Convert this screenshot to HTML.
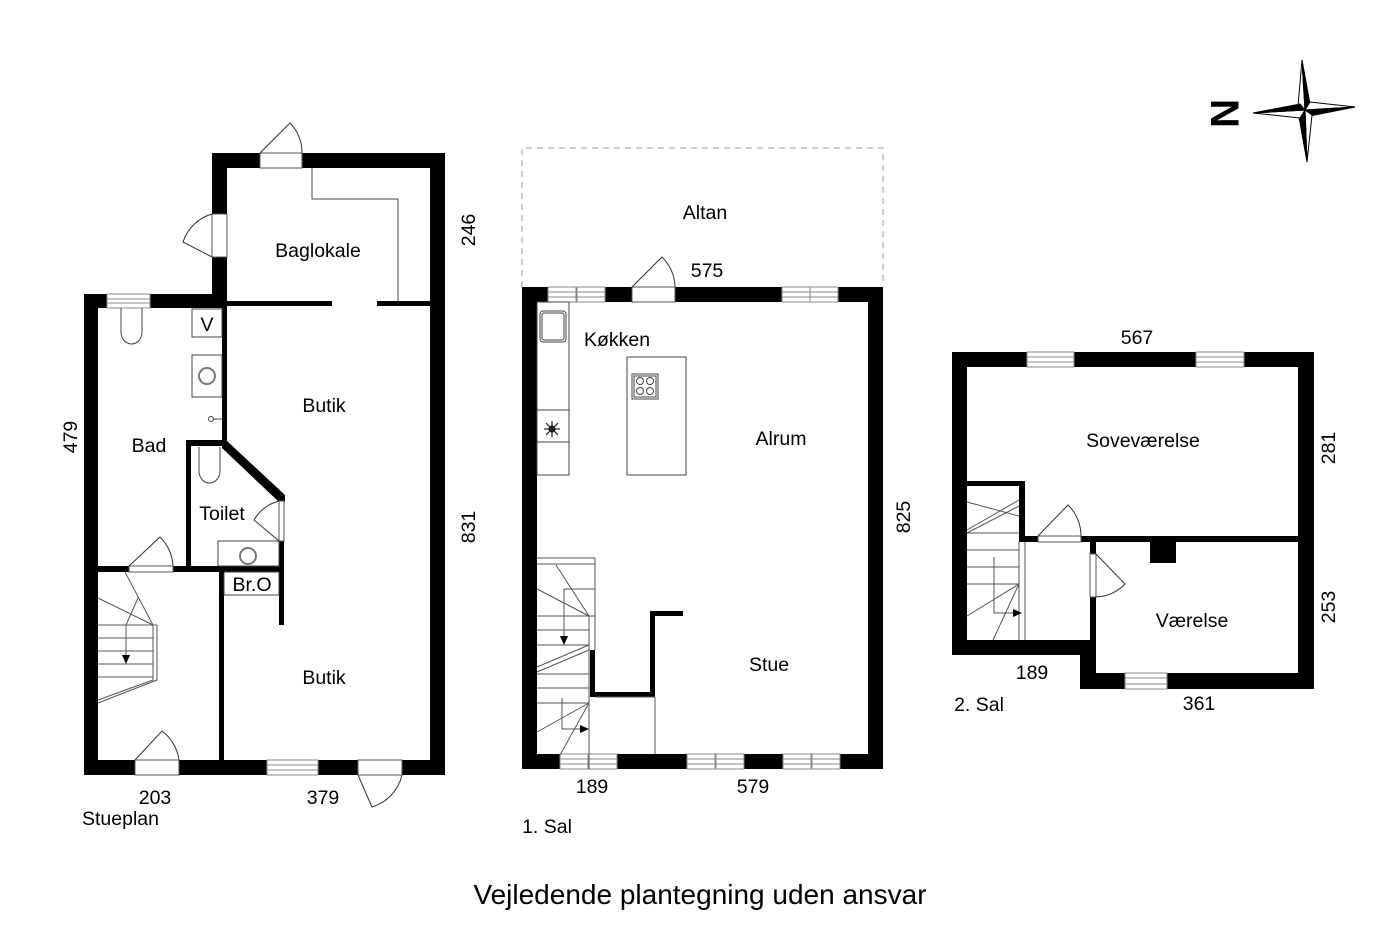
<!DOCTYPE html>
<html><head><meta charset="utf-8"><style>
html,body{margin:0;padding:0;background:#fff;}
svg{display:block}
text{font-family:"Liberation Sans",Arial,sans-serif;fill:#000}
</style></head><body>
<svg width="1400" height="933" viewBox="0 0 1400 933" xmlns="http://www.w3.org/2000/svg">
<g fill="#000">
<rect x="84" y="294" width="14" height="481"/>
<rect x="84" y="294" width="143" height="14"/>
<rect x="212" y="153" width="15" height="155"/>
<rect x="212" y="153" width="233" height="15"/>
<rect x="430" y="153" width="15" height="622"/>
<rect x="84" y="760" width="361" height="15"/>
<rect x="222" y="300" width="5" height="145"/>
<rect x="227" y="301" width="105" height="5"/>
<rect x="377" y="301" width="53" height="5"/>
<rect x="186" y="440" width="41" height="6"/>
<rect x="186" y="440" width="5" height="132"/>
<polygon points="222,441 227,441 285,495 285,502 279,502 222,448"/>
<rect x="279" y="541" width="5" height="84"/>
<rect x="98" y="566" width="186" height="6"/>
<rect x="219" y="566" width="5" height="194"/>
<rect x="522" y="287" width="15" height="482"/>
<rect x="522" y="287" width="361" height="15"/>
<rect x="868" y="287" width="15" height="482"/>
<rect x="522" y="754" width="361" height="15"/>
<rect x="650" y="611" width="33" height="5"/>
<rect x="650" y="611" width="5" height="86"/>
<rect x="590" y="692" width="65" height="5"/>
<rect x="590" y="650" width="5" height="47"/>
<rect x="952" y="352" width="362" height="15"/>
<rect x="952" y="352" width="15" height="303"/>
<rect x="1298" y="352" width="16" height="337"/>
<rect x="952" y="640" width="144" height="15"/>
<rect x="1080" y="640" width="16" height="49"/>
<rect x="1080" y="673" width="234" height="16"/>
<rect x="1019" y="536" width="279" height="6"/>
<rect x="967" y="481" width="58" height="5"/>
<rect x="1019" y="481" width="6" height="61"/>
<rect x="1090" y="542" width="6" height="98"/>
<rect x="1150" y="542" width="26" height="21"/>
</g>

<g fill="#fff" stroke="#888" stroke-width="1">
<rect x="107" y="294" width="43" height="14"/>
<rect x="267" y="760" width="51" height="15"/>
<rect x="548" y="287" width="28" height="15"/><rect x="577" y="287" width="28" height="15"/>
<rect x="782" y="287" width="28" height="15"/><rect x="810" y="287" width="28" height="15"/>
<rect x="560" y="754" width="28" height="15"/><rect x="589" y="754" width="28" height="15"/>
<rect x="687" y="754" width="28" height="15"/><rect x="716" y="754" width="28" height="15"/>
<rect x="783" y="754" width="28" height="15"/><rect x="812" y="754" width="28" height="15"/>
<rect x="1027" y="352" width="47" height="15"/>
<rect x="1196" y="352" width="48" height="15"/>
<rect x="1125" y="673" width="42" height="16"/>
</g>
<g stroke="#888" stroke-width="1">
<line x1="107" y1="299" x2="150" y2="299"/><line x1="107" y1="303" x2="150" y2="303"/>
<line x1="267" y1="765" x2="318" y2="765"/><line x1="267" y1="770" x2="318" y2="770"/>
<line x1="548" y1="292" x2="605" y2="292"/><line x1="548" y1="297" x2="605" y2="297"/>
<line x1="782" y1="292" x2="838" y2="292"/><line x1="782" y1="297" x2="838" y2="297"/>
<line x1="560" y1="759" x2="617" y2="759"/><line x1="560" y1="764" x2="617" y2="764"/>
<line x1="687" y1="759" x2="744" y2="759"/><line x1="687" y1="764" x2="744" y2="764"/>
<line x1="783" y1="759" x2="840" y2="759"/><line x1="783" y1="764" x2="840" y2="764"/>
<line x1="1027" y1="357" x2="1074" y2="357"/><line x1="1027" y1="362" x2="1074" y2="362"/>
<line x1="1196" y1="357" x2="1244" y2="357"/><line x1="1196" y1="362" x2="1244" y2="362"/>
<line x1="1125" y1="678" x2="1167" y2="678"/><line x1="1125" y1="684" x2="1167" y2="684"/>
</g>

<g fill="#fff" stroke="#555" stroke-width="1">
<rect x="260" y="153" width="42" height="15"/>
<rect x="212" y="214" width="15" height="43"/>
<rect x="129" y="566" width="44" height="6"/>
<rect x="279" y="501" width="5" height="40"/>
<rect x="135" y="760" width="44" height="15"/>
<rect x="358" y="760" width="44" height="15"/>
<rect x="632" y="287" width="43" height="15"/>
<rect x="1038" y="536" width="43" height="6"/>
<rect x="1090" y="554" width="6" height="43"/>
</g>
<g fill="none" stroke="#333" stroke-width="1">
<path d="M260,153 L290,123 A42,42 0 0 1 302,153"/>
<path d="M212,257 L183,242 A43,43 0 0 1 212,214"/>
<path d="M129,566 L160,537 A44,44 0 0 1 173,566"/>
<path d="M279,541 L254,520 A40,40 0 0 1 279,501"/>
<path d="M135,760 L162,731 A44,44 0 0 1 179,760"/>
<path d="M358,775 L372,807 A44,44 0 0 0 402,775"/>
<path d="M632,287 L662,257 A43,43 0 0 1 675,287"/>
<path d="M1038,536 L1068,505 A43,43 0 0 1 1081,536"/>
<path d="M1096,554 L1125,584 A43,43 0 0 1 1096,597"/>
</g>

<g fill="none" stroke="#444" stroke-width="1">
<path d="M312,168 V199 H398 V301"/>
<rect x="192" y="309" width="30" height="28"/>
<rect x="192" y="355" width="30" height="42"/>
<circle cx="207" cy="376" r="8" stroke="#777" stroke-width="2"/>
<circle cx="211" cy="419" r="2.5"/><line x1="213" y1="419" x2="222" y2="419"/>
<path d="M121,308 V332 A10.5,12 0 0 0 142,332 V308"/>
<path d="M199,447 V471 A10.5,12 0 0 0 220,471 V447"/>
<rect x="218" y="541" width="61" height="25"/>
<circle cx="248" cy="556" r="8" stroke="#777" stroke-width="2"/>
<rect x="224" y="572" width="55" height="23"/>
<g stroke="#555">
<line x1="98" y1="625" x2="157" y2="625"/><line x1="98" y1="638" x2="153" y2="638"/>
<line x1="98" y1="651" x2="153" y2="651"/><line x1="98" y1="664" x2="153" y2="664"/>
<line x1="98" y1="677" x2="153" y2="677"/>
<path d="M153,625 V680 L98,700"/><path d="M157,625 V680 L98,703"/>
<line x1="98" y1="598" x2="153" y2="625"/><line x1="125" y1="572" x2="153" y2="625"/>
<path d="M138,598 L126,625 V655"/>
</g>
<rect x="537" y="302" width="32" height="173"/>
<line x1="537" y1="410" x2="569" y2="410"/><line x1="537" y1="442" x2="569" y2="442"/>
<rect x="540" y="311" width="26" height="31" rx="3"/>
<rect x="542" y="313" width="22" height="27" rx="2"/>
<rect x="627" y="357" width="59" height="118"/>
<rect x="632" y="374" width="26" height="25"/><rect x="634" y="376" width="22" height="21"/>
<circle cx="640" cy="381" r="3.5"/><circle cx="650" cy="381" r="3.5"/>
<circle cx="640" cy="391" r="3.5"/><circle cx="650" cy="391" r="3.5"/>
<path d="M522,287 V148 H883 V287" stroke="#999" stroke-dasharray="6,5"/>
<g stroke="#555">
<line x1="537" y1="558" x2="595" y2="558"/><line x1="537" y1="564" x2="595" y2="564"/>
<line x1="595" y1="558" x2="595" y2="650"/><line x1="589" y1="616" x2="589" y2="769"/>
<line x1="537" y1="616" x2="595" y2="616"/><line x1="537" y1="630" x2="589" y2="630"/>
<line x1="537" y1="645" x2="589" y2="645"/><line x1="537" y1="674" x2="589" y2="674"/>
<line x1="537" y1="688" x2="589" y2="688"/><line x1="537" y1="703" x2="589" y2="703"/>
<line x1="537" y1="667" x2="589" y2="645"/><line x1="537" y1="672" x2="589" y2="650"/>
<line x1="537" y1="589" x2="589" y2="616"/><line x1="556" y1="565" x2="589" y2="616"/>
<path d="M564,589 H595"/><path d="M564,589 V638"/>
<line x1="537" y1="732" x2="589" y2="703"/><line x1="560" y1="755" x2="589" y2="703"/>
<path d="M562,698 V729 H582"/>
<line x1="595" y1="697" x2="655" y2="697"/><line x1="655" y1="697" x2="655" y2="754"/>
</g>
<g stroke="#555">
<line x1="1019" y1="542" x2="1019" y2="640"/><line x1="1025" y1="542" x2="1025" y2="640"/>
<line x1="967" y1="533" x2="1019" y2="533"/><line x1="967" y1="550" x2="1019" y2="550"/>
<line x1="967" y1="567" x2="1019" y2="567"/><line x1="967" y1="584" x2="1019" y2="584"/>
<line x1="967" y1="502" x2="1019" y2="516"/><line x1="967" y1="530" x2="1019" y2="500"/>
<line x1="967" y1="533" x2="1019" y2="506"/>
<line x1="967" y1="616" x2="1019" y2="584"/><line x1="993" y1="640" x2="1019" y2="584"/>
<path d="M994,557 V613 H1014"/>
</g>
</g>
<g fill="#000">
<polygon points="122,655 130,655 126,664"/>
<polygon points="560,636 568,636 564,645"/>
<polygon points="580,725 589,729 580,733"/>
<polygon points="1013,609 1022,613 1013,617"/>
</g>
<g stroke="#222" stroke-width="1.2" fill="none">
<line x1="544" y1="429" x2="560" y2="429"/><line x1="552" y1="421" x2="552" y2="437"/>
<line x1="546" y1="423" x2="558" y2="435"/><line x1="558" y1="423" x2="546" y2="435"/>
<circle cx="552" cy="429" r="3" fill="#222"/>
</g>

<g stroke="#000" stroke-width="1">
<polygon points="1302,60 1298,106 1305,110" fill="#fff"/>
<polygon points="1302,60 1310,104 1305,110" fill="#000"/>
<polygon points="1355,107 1310,102 1305,110" fill="#fff"/>
<polygon points="1355,107 1310,116 1305,110" fill="#000"/>
<polygon points="1307,162 1312,115 1305,110" fill="#fff"/>
<polygon points="1307,162 1299,117 1305,110" fill="#000"/>
<polygon points="1253,113 1300,118 1305,110" fill="#fff"/>
<polygon points="1253,113 1300,104 1305,110" fill="#000"/>
</g>
<text x="0" y="0" font-size="40" font-weight="bold" transform="translate(1211,99) rotate(90)">N</text>

<g font-size="19.5">
<text x="318" y="257" text-anchor="middle">Baglokale</text>
<text x="324" y="412" text-anchor="middle">Butik</text>
<text x="149" y="452" text-anchor="middle">Bad</text>
<text x="222" y="520" text-anchor="middle">Toilet</text>
<text x="252" y="591" text-anchor="middle">Br.O</text>
<text x="207" y="331" text-anchor="middle">V</text>
<text x="324" y="684" text-anchor="middle">Butik</text>
<text x="155" y="804" text-anchor="middle">203</text>
<text x="323" y="804" text-anchor="middle">379</text>
<text x="82" y="825">Stueplan</text>
<text transform="translate(77,437) rotate(-90)" text-anchor="middle">479</text>
<text transform="translate(475,230) rotate(-90)" text-anchor="middle">246</text>
<text transform="translate(475,527) rotate(-90)" text-anchor="middle">831</text>
<text x="705" y="219" text-anchor="middle">Altan</text>
<text x="707" y="277" text-anchor="middle">575</text>
<text x="617" y="346" text-anchor="middle">Køkken</text>
<text x="781" y="445" text-anchor="middle">Alrum</text>
<text x="769" y="671" text-anchor="middle">Stue</text>
<text transform="translate(910,517) rotate(-90)" text-anchor="middle">825</text>
<text x="592" y="793" text-anchor="middle">189</text>
<text x="753" y="793" text-anchor="middle">579</text>
<text x="547" y="833" text-anchor="middle">1. Sal</text>
<text x="1137" y="344" text-anchor="middle">567</text>
<text x="1143" y="447" text-anchor="middle">Soveværelse</text>
<text transform="translate(1335,448) rotate(-90)" text-anchor="middle">281</text>
<text transform="translate(1335,607) rotate(-90)" text-anchor="middle">253</text>
<text transform="translate(967,570) rotate(-90)" text-anchor="middle">ˉ293</text>
<text x="1192" y="627" text-anchor="middle">Værelse</text>
<text x="1032" y="679" text-anchor="middle">189</text>
<text x="1199" y="710" text-anchor="middle">361</text>
<text x="979" y="711" text-anchor="middle">2. Sal</text>
</g>
<text x="700" y="904" font-size="28" text-anchor="middle">Vejledende plantegning uden ansvar</text>
</svg>
</body></html>
